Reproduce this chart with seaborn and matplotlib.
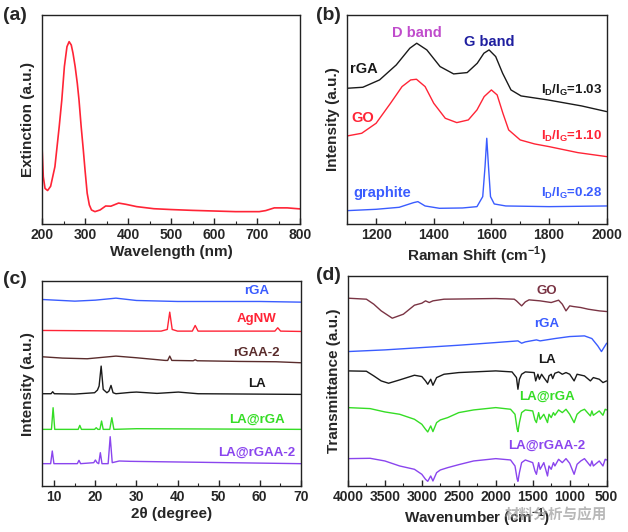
import numpy as np
import pandas as pd
import matplotlib
matplotlib.use('Agg')
import matplotlib.pyplot as plt
from matplotlib.ticker import MultipleLocator
import seaborn as sns

sns.set_style('ticks')
plt.rcParams['font.family'] = ['Liberation Sans', 'DejaVu Sans']
plt.rcParams['font.weight'] = 'bold'
plt.rcParams['axes.labelweight'] = 'bold'
plt.rcParams['mathtext.fontset'] = 'custom'
plt.rcParams['mathtext.rm'] = 'Liberation Sans:bold'
plt.rcParams['mathtext.bf'] = 'Liberation Sans:bold'

# (a) UV-vis extinction
uv_wl = [200, 203, 207, 213, 220, 230, 240, 246, 252, 258, 263, 268, 272, 277, 282, 286,
         291, 296, 300, 305, 310, 315, 323, 335, 348, 360, 378, 395, 420, 460, 500, 550,
         600, 650, 705, 720, 740, 770, 800]
uv_ext = [0.37, 0.226, 0.17, 0.16, 0.18, 0.274, 0.466, 0.593, 0.753, 0.848, 0.872, 0.856,
          0.817, 0.753, 0.673, 0.593, 0.466, 0.354, 0.258, 0.147, 0.091, 0.067, 0.059,
          0.067, 0.086, 0.085, 0.10, 0.094, 0.083, 0.073, 0.069, 0.065, 0.062, 0.059,
          0.059, 0.064, 0.077, 0.077, 0.072]

# (b) Raman
rga_shift = [1100, 1154, 1212, 1270, 1317, 1341, 1376, 1422, 1469, 1516, 1551, 1574, 1592,
             1615, 1639, 1668, 1703, 1796, 1913, 2000]
rga_raman = [407, 410, 432, 477, 527, 542, 522, 472, 450, 454, 482, 512, 522, 502, 452, 402,
             384, 372, 354, 337]
go_shift = [1100, 1150, 1200, 1250, 1290, 1320, 1340, 1370, 1400, 1440, 1480, 1520, 1550,
            1575, 1600, 1620, 1640, 1660, 1700, 1750, 1800, 1900, 2000]
go_raman = [264, 272, 302, 362, 412, 432, 434, 412, 362, 317, 304, 312, 342, 382, 402, 387,
            332, 282, 252, 240, 232, 214, 202]
gr_shift = [1100, 1200, 1280, 1330, 1345, 1370, 1420, 1500, 1550, 1570, 1578, 1584, 1590,
            1597, 1610, 1650, 1800, 2000]
gr_raman = [40, 44, 50, 64, 67, 54, 47, 48, 52, 82, 172, 257, 172, 82, 60, 54, 52, 54]
ratio_labels = ['1.03', '1.10', '0.28']

# (c) XRD
xrd_rga_x = [7, 15, 20, 25, 30, 40, 50, 60, 70]
xrd_rga_y = [560, 555, 558, 564, 557, 554, 554, 554, 552]
xrd_ag_x = [7, 20, 30, 36, 37.5, 38.1, 38.7, 40, 43.6, 44.3, 45, 55, 63.7, 64.4, 65.1, 70]
xrd_ag_y = [467, 466, 465, 465, 470, 522, 470, 465, 465, 482, 465, 465, 465, 475, 465, 464]
xrd_rgaa_x = [7, 12, 18, 25, 30, 37, 37.6, 38.1, 38.6, 43.8, 44.3, 44.8, 55, 64, 70]
xrd_rgaa_y = [388, 384, 382, 390, 385, 377, 377, 390, 377, 376, 379, 376, 374, 373, 370]
xrd_la_x = [7, 9.2, 9.6, 10.0, 15, 19.8, 20.5, 20.9, 21.4, 21.9, 22.8, 23.3, 23.8, 24.3, 25,
            28.5, 30, 35, 40.2, 45, 70]
xrd_la_y = [277, 277, 283, 277, 276, 280, 288, 300, 360, 290, 280, 285, 302, 280, 277, 281,
            282, 278, 282, 277, 275]
xrd_larga_x = [7, 9.3, 9.7, 10.1, 15.8, 16.2, 16.6, 19.8, 20.2, 20.6, 21.1, 21.5, 21.9, 23.5,
               24.0, 24.5, 30, 70]
xrd_larga_y = [170, 170, 235, 170, 170, 182, 170, 170, 175, 170, 170, 195, 170, 170, 205, 170,
               172, 170]
xrd_largaa_x = [7, 9.1, 9.5, 9.9, 15.6, 16, 16.4, 19.6, 20, 20.4, 20.8, 21.2, 21.6, 23.1, 23.6,
                24.1, 25.8, 28.5, 70]
xrd_largaa_y = [67, 67, 105, 67, 67, 77, 67, 70, 78, 70, 67, 100, 67, 67, 148, 70, 75, 74, 67]

# (d) FTIR
ir_go_x = [4000, 3750, 3650, 3550, 3400, 3250, 3100, 3000, 2950, 2900, 2850, 2700, 2000, 1750,
           1720, 1650, 1600, 1550, 1400, 1250, 1150, 1100, 1050, 1000, 950, 850, 750, 600, 500]
ir_go_y = [563, 560, 545, 525, 503, 515, 542, 548, 555, 550, 555, 560, 562, 560, 555, 540, 552,
           558, 555, 550, 557, 545, 525, 540, 538, 535, 530, 525, 523]
ir_rga_x = [4000, 3500, 3000, 2500, 2000, 1700, 1650, 1600, 1450, 1400, 1200, 1000, 800, 700,
            620, 570, 500]
ir_rga_y = [403, 408, 415, 422, 430, 435, 428, 432, 438, 435, 442, 448, 450, 442, 420, 403, 428]
ir_la_x = [4000, 3750, 3650, 3550, 3450, 3300, 3100, 3000, 2950, 2920, 2880, 2850, 2800, 2700,
           2500, 2000, 1780, 1720, 1700, 1680, 1650, 1600, 1480, 1460, 1430, 1410, 1380, 1350,
           1300, 1280, 1250, 1230, 1200, 1150, 1100, 1050, 1000, 940, 900, 800, 720, 680, 600,
           550, 500]
ir_la_y = [345, 344, 330, 315, 308, 318, 332, 328, 315, 305, 320, 302, 325, 335, 340, 345, 342,
           325, 290, 320, 335, 342, 340, 315, 335, 320, 335, 325, 310, 330, 335, 322, 338, 342,
           335, 340, 335, 315, 335, 330, 315, 325, 320, 310, 315]
ir_comp_x = [4000, 3700, 3500, 3300, 3100, 3000, 2950, 2920, 2880, 2850, 2800, 2750, 2650, 2500,
             2300, 2000, 1800, 1740, 1710, 1700, 1680, 1650, 1600, 1500, 1470, 1450, 1420, 1400,
             1350, 1300, 1280, 1250, 1220, 1200, 1150, 1100, 1050, 1000, 940, 900, 850, 800,
             720, 700, 680, 600, 550, 520, 500]
ir_larga_y = [235, 232, 222, 215, 200, 185, 170, 162, 180, 163, 190, 198, 205, 220, 228, 235,
              230, 215, 170, 163, 190, 220, 228, 225, 198, 190, 220, 200, 215, 190, 215, 205,
              220, 212, 228, 220, 230, 215, 190, 215, 225, 230, 210, 225, 212, 225, 212, 230, 228]
ir_largaa_y = [82, 83, 75, 60, 50, 35, 20, 14, 30, 15, 40, 48, 55, 64, 75, 82, 78, 60, 20, 14,
               40, 70, 78, 70, 45, 35, 70, 50, 70, 30, 60, 50, 70, 60, 80, 70, 82, 68, 35, 65,
               75, 82, 60, 75, 60, 75, 60, 80, 78]

RED = '#ff2436'
BLUE = '#3a5cff'
BLACK = '#1a1a1a'
GREEN = '#35dd25'
PURPLE = '#8a45ee'
BROWN = '#5a2c2c'
GOBROWN = '#7a3444'

fig = plt.figure(figsize=(6.28, 5.32), dpi=100)
axa = fig.add_axes([0.0669, 0.579, 0.411, 0.393])
axb = fig.add_axes([0.553, 0.579, 0.413, 0.393])
axc = fig.add_axes([0.0669, 0.0865, 0.412, 0.385])
axd = fig.add_axes([0.554, 0.0865, 0.412, 0.395])

lw = 1.0
sns.lineplot(x=uv_wl, y=uv_ext, ax=axa, color=RED, lw=1.2)
axa.set_xlim(200, 800)
axa.set_ylim(0, 1)
axa.xaxis.set_major_locator(MultipleLocator(100))
axa.xaxis.set_minor_locator(MultipleLocator(50))
axa.set_xlabel('Wavelength (nm)')
axa.set_ylabel('Extinction (a.u.)')

sns.lineplot(x=rga_shift, y=rga_raman, ax=axb, color=BLACK, lw=lw)
sns.lineplot(x=go_shift, y=go_raman, ax=axb, color=RED, lw=lw)
sns.lineplot(x=gr_shift, y=gr_raman, ax=axb, color=BLUE, lw=lw)
axb.set_xlim(1100, 2000)
axb.set_ylim(0, 627)
axb.xaxis.set_major_locator(MultipleLocator(200))
axb.xaxis.set_minor_locator(MultipleLocator(100))
axb.set_xlabel('Raman Shift (cm$^{-1}$)')
axb.set_ylabel('Intensity (a.u.)')
fs = 10.5
axb.text(0.27, 0.912, 'D band', color='#c04ccc', fontsize=fs, ha='center', va='center', transform=axb.transAxes)
axb.text(0.546, 0.872, 'G band', color='#1f1fa0', fontsize=fs, ha='center', va='center', transform=axb.transAxes)
axb.text(0.064, 0.74, 'rGA', color=BLACK, fontsize=fs, ha='center', va='center', transform=axb.transAxes)
axb.text(0.058, 0.506, 'GO', color=RED, fontsize=fs, ha='center', va='center', transform=axb.transAxes)
axb.text(0.135, 0.147, 'graphite', color=BLUE, fontsize=fs, ha='center', va='center', transform=axb.transAxes)
for r, yy, c in zip(ratio_labels, [0.641, 0.418, 0.147], [BLACK, RED, BLUE]):
    axb.text(0.983, yy, r'I$_\mathrm{D}$/I$_\mathrm{G}$=' + r, color=c, fontsize=9.5,
             ha='right', va='center', transform=axb.transAxes)

xrd = [(xrd_rga_x, xrd_rga_y, BLUE, 'rGA', 0.951),
       (xrd_ag_x, xrd_ag_y, RED, 'AgNW', 0.813),
       (xrd_rgaa_x, xrd_rgaa_y, BROWN, 'rGAA-2', 0.650),
       (xrd_la_x, xrd_la_y, BLACK, 'LA', 0.496),
       (xrd_larga_x, xrd_larga_y, GREEN, 'LA@rGA', 0.325),
       (xrd_largaa_x, xrd_largaa_y, PURPLE, 'LA@rGAA-2', 0.163)]
for xs, ys, c, name, ly in xrd:
    sns.lineplot(x=xs, y=ys, ax=axc, color=c, lw=lw)
    axc.text(0.829, ly, name, color=c, fontsize=9.5, ha='center', va='center', transform=axc.transAxes)
axc.set_xlim(7, 70)
axc.set_ylim(0, 615)
axc.xaxis.set_major_locator(MultipleLocator(10))
axc.xaxis.set_minor_locator(MultipleLocator(5))
axc.set_xlabel('2\u03b8 (degree)')
axc.set_ylabel('Intensity (a.u.)')

ftir = [(ir_go_x, ir_go_y, GOBROWN, 'GO', 0.929),
        (ir_rga_x, ir_rga_y, BLUE, 'rGA', 0.770),
        (ir_la_x, ir_la_y, BLACK, 'LA', 0.598),
        (ir_comp_x, ir_larga_y, GREEN, 'LA@rGA', 0.424),
        (ir_comp_x, ir_largaa_y, PURPLE, 'LA@rGAA-2', 0.190)]
for xs, ys, c, name, ly in ftir:
    sns.lineplot(x=xs, y=ys, ax=axd, color=c, lw=lw)
    axd.text(0.77, ly, name, color=c, fontsize=9.5, ha='center', va='center', transform=axd.transAxes)
axd.set_xlim(4000, 500)
axd.set_ylim(0, 630)
axd.xaxis.set_major_locator(MultipleLocator(500))
axd.xaxis.set_minor_locator(MultipleLocator(250))
axd.set_xlabel('Wavenumber (cm$^{-1}$)')
axd.set_ylabel('Transmittance (a.u.)')

for ax in [axa, axb, axc, axd]:
    ax.set_yticks([])
    for s in ax.spines.values():
        s.set_visible(True)
        s.set_linewidth(1.0)
        s.set_color('#222222')
    ax.tick_params(axis='x', which='major', direction='in', length=4, width=1, labelsize=10, pad=3)
    ax.tick_params(axis='x', which='minor', direction='in', length=2.5, width=0.8)
    ax.xaxis.label.set_size(11)
    ax.yaxis.label.set_size(11)
    ax.xaxis.labelpad = 2
    ax.yaxis.labelpad = 5

for lab, px, py in [('(a)', 3, 16), ('(b)', 316, 16), ('(c)', 3, 280), ('(d)', 316, 276)]:
    fig.text(px / 628, 1 - py / 532, lab, fontsize=14, fontweight='bold', ha='left', va='center')

fig.text(556 / 628, 1 - 514 / 532, '\u6750\u6599\u5206\u6790\u4e0e\u5e94\u7528', fontsize=10.5,
         color='#9a9a9a', alpha=0.7, ha='center', va='center', family=['Noto Sans CJK SC', 'DejaVu Sans'])

fig.savefig('out.png', dpi=100)
